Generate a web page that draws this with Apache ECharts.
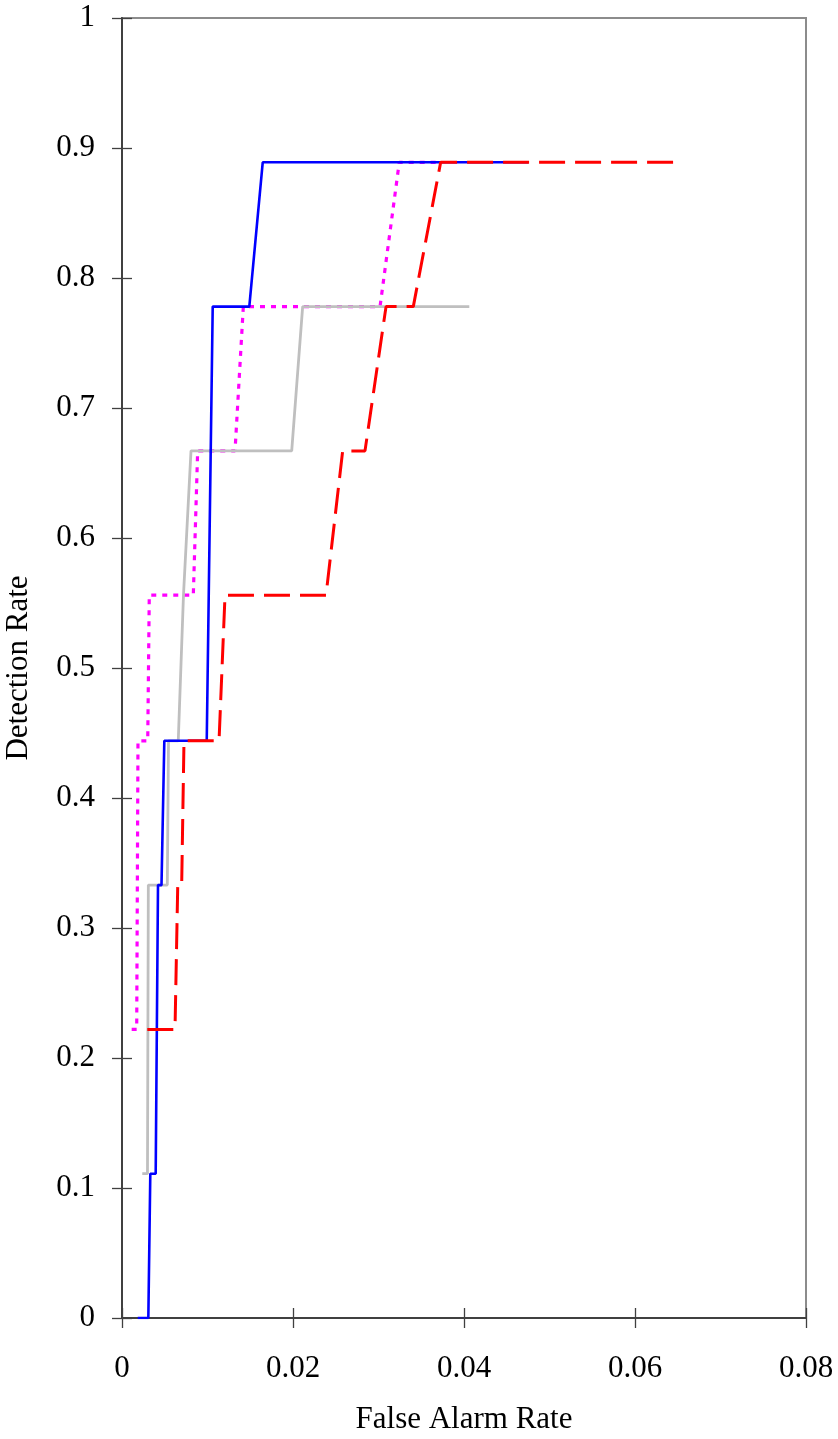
<!DOCTYPE html>
<html>
<head>
<meta charset="utf-8">
<script src="https://cdn.jsdelivr.net/npm/echarts@6/dist/echarts.min.js"></script>
<style>
html,body{margin:0;padding:0;background:#fff;}
#chart{width:838px;height:1439px;}
</style>
</head>
<body>
<div id="chart"></div>
<script>
// Axis ticks
var xTicks = [0, 0.02, 0.04, 0.06, 0.08];
var yTicks = [0, 0.1, 0.2, 0.3, 0.4, 0.5, 0.6, 0.7, 0.8, 0.9, 1];

// Blue (solid)
var blueFAR = [0.00184, 0.00308, 0.00331, 0.00394, 0.00421, 0.00462, 0.00495, 0.00991, 0.01061, 0.01489, 0.01646, 0.04752];
var blueDR  = [0, 0, 0.111, 0.111, 0.333, 0.333, 0.444, 0.444, 0.778, 0.778, 0.889, 0.889];

// Gray (solid)
var grayFAR = [0.00237, 0.00298, 0.00308, 0.0053, 0.00544, 0.00658, 0.00719, 0.00807, 0.01985, 0.02113, 0.04062];
var grayDR  = [0.111, 0.111, 0.333, 0.333, 0.444, 0.444, 0.556, 0.667, 0.667, 0.778, 0.778];

// Magenta (dotted)
var magentaFAR = [0.00113, 0.00172, 0.00187, 0.00301, 0.00319, 0.00834, 0.00885, 0.01322, 0.01419, 0.03018, 0.03243, 0.0372];
var magentaDR  = [0.222, 0.222, 0.444, 0.444, 0.556, 0.556, 0.667, 0.667, 0.778, 0.778, 0.889, 0.889];

// Red (dashed)
var redFAR = [0.00296, 0.0062, 0.00652, 0.00698, 0.00725, 0.01135, 0.01205, 0.02386, 0.02581, 0.02842, 0.03088, 0.03407, 0.03727, 0.06546];
var redDR  = [0.222, 0.222, 0.333, 0.333, 0.444, 0.444, 0.556, 0.556, 0.667, 0.667, 0.778, 0.778, 0.889, 0.889];

function pairs(xs, ys) { return xs.map(function (x, i) { return [x, ys[i]]; }); }

var FONT = '"Liberation Serif", "DejaVu Serif", serif';
var FS = 31;
var AX = '#404040';

function xAxisBase(extra) {
  var a = {
    type: 'value', position: 'bottom', min: xTicks[0], max: xTicks[xTicks.length - 1], interval: 0.02,
    splitLine: { show: false },
    axisLine: { show: true, onZero: false, lineStyle: { color: AX, width: 2 } },
    axisTick: { show: false },
    axisLabel: { show: true, margin: 35, color: '#000', fontFamily: FONT, fontSize: FS }
  };
  for (var k in extra) a[k] = extra[k];
  return a;
}
function yAxisBase(extra) {
  var a = {
    type: 'value', position: 'left', min: yTicks[0], max: yTicks[yTicks.length - 1], interval: 0.1,
    splitLine: { show: false },
    axisLine: { show: true, onZero: false, lineStyle: { color: AX, width: 2 } },
    axisTick: { show: false },
    axisLabel: { show: true, margin: 27, color: '#000', fontFamily: FONT, fontSize: FS }
  };
  for (var k in extra) a[k] = extra[k];
  return a;
}

var chart = echarts.init(document.getElementById('chart'), null, { renderer: 'canvas' });
chart.setOption({
  animation: false,
  backgroundColor: '#fff',
  grid: { left: 122, right: 32, top: 18, bottom: 121, containLabel: false, outerBoundsMode: 'none',
    show: true, borderColor: '#8c8c8c', borderWidth: 2, backgroundColor: 'transparent' },
  xAxis: [
    xAxisBase({ name: 'False Alarm Rate', nameLocation: 'middle', nameGap: 86,
      nameTextStyle: { color: '#000', fontFamily: FONT, fontSize: FS } }),
    xAxisBase({ offset: -10, axisLine: { show: false }, axisLabel: { show: false },
      axisTick: { show: true, inside: false, length: 20, lineStyle: { color: AX, width: 1.3 } } })
  ],
  yAxis: [
    yAxisBase({ name: 'Detection Rate', nameLocation: 'middle', nameGap: 88,
      nameTextStyle: { color: '#000', fontFamily: FONT, fontSize: FS } }),
    yAxisBase({ offset: -10, axisLine: { show: false }, axisLabel: { show: false },
      axisTick: { show: true, inside: false, length: 20, lineStyle: { color: AX, width: 1.3 } } })
  ],
  series: [
    { type: 'line', name: 'magenta', data: pairs(magentaFAR, magentaDR), showSymbol: false, z: 2,
      lineStyle: { color: '#ff00ff', width: 3.2, type: [5, 6] } },
    { type: 'line', name: 'gray', data: pairs(grayFAR, grayDR), showSymbol: false, z: 3,
      lineStyle: { color: '#bfbfbf', width: 2.8 } },
    { type: 'line', name: 'blue', data: pairs(blueFAR, blueDR), showSymbol: false, z: 4,
      lineStyle: { color: '#0000ff', width: 2.6 } },
    { type: 'line', name: 'red', data: pairs(redFAR, redDR), showSymbol: false, z: 5,
      lineStyle: { color: '#ff0000', width: 3, type: [26, 10] } }
  ]
});
</script>
</body>
</html>
